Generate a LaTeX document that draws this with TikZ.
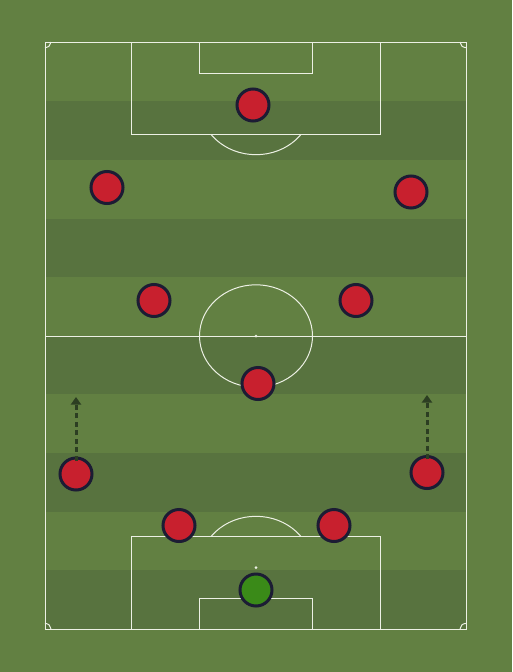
\documentclass[tikz,border=0pt]{standalone}
\usetikzlibrary{arrows.meta,shadows}
\definecolor{grassL}{RGB}{98,128,66}
\definecolor{grassD}{RGB}{88,115,63}
\definecolor{pline}{RGB}{236,240,228}
\definecolor{redP}{RGB}{200,32,46}
\definecolor{greenP}{RGB}{58,138,24}
\definecolor{rim}{RGB}{28,28,52}
\definecolor{arrowc}{RGB}{44,62,34}
\tikzset{
  fieldline/.style={draw=pline, line width=1pt},
  player/.style={circle, minimum size=32pt, inner sep=0pt, line width=3pt, draw=rim, fill=redP,
    drop shadow={shadow xshift=0.5pt, shadow yshift=-1.2pt, opacity=0.35, fill=black}},
  keeper/.style={player, fill=greenP},
  run/.style={draw=arrowc, line width=3pt, dash pattern=on 5pt off 3.5pt,
    -{Triangle[width=10pt,length=7.5pt]}, shorten >=0pt},
}
\begin{document}
\begin{tikzpicture}[x=1pt,y=-1pt]
\useasboundingbox (0,0) rectangle (512,672);
\fill[grassL] (0,0) rectangle (512,672);
% stripes
\foreach \a/\b in {101/160,218.5/277,336/394,453/512,570/629}
  \fill[grassD] (45,\a) rectangle (466,\b);
% outer lines
\draw[fieldline] (45,42) rectangle (466,629);
\draw[fieldline] (45,336) -- (466,336);
\draw[fieldline] (256,336) ellipse [x radius=56.5, y radius=51.2];
\fill[pline] (256,336) circle (1.5);
% top
\draw[fieldline] (131,42) rectangle (380,134.5);
\draw[fieldline] (199,42) rectangle (312,73);
\fill[pline] (256,103.5) circle (1.5);
\begin{scope}
  \clip (45,134.5) rectangle (466,300);
  \draw[fieldline] (256,103.5) ellipse [x radius=56.5, y radius=51.2];
\end{scope}
% bottom
\draw[fieldline] (131,536) rectangle (380,629);
\draw[fieldline] (199,598) rectangle (312,629);
\fill[pline] (256,567.5) circle (1.5);
\begin{scope}
  \clip (45,400) rectangle (466,536);
  \draw[fieldline] (256,567.5) ellipse [x radius=56.5, y radius=51.2];
\end{scope}
% corner arcs
\draw[fieldline] (51,42) arc[start angle=0, end angle=-90, x radius=6, y radius=-5.6];
\draw[fieldline] (460,42) arc[start angle=180, end angle=270, x radius=6, y radius=-5.6];
\draw[fieldline] (51,629) arc[start angle=0, end angle=90, x radius=6, y radius=-5.6];
\draw[fieldline] (460,629) arc[start angle=180, end angle=90, x radius=6, y radius=-5.6];
% runs
\coordinate (t1) at (76,397);
\coordinate (t2) at (427,395);
% players
\node[player] (p1) at (253,105) {};
\node[player] (p2) at (107,187.5) {};
\node[player] (p3) at (411,192) {};
\node[player] (p4) at (154,300.5) {};
\node[player] (p5) at (356,300.5) {};
\node[player] (p6) at (258,383.5) {};
\node[player] (p7) at (76,474) {};
\node[player] (p8) at (427,472.5) {};
\node[player] (p9) at (179,525.5) {};
\node[player] (p10) at (334,525.5) {};
\node[keeper] (gk) at (256,590) {};
\draw[run] ([yshift=-4pt]p7.north) -- (t1);
\draw[run] ([yshift=-4pt]p8.north) -- (t2);
\end{tikzpicture}
\end{document}
